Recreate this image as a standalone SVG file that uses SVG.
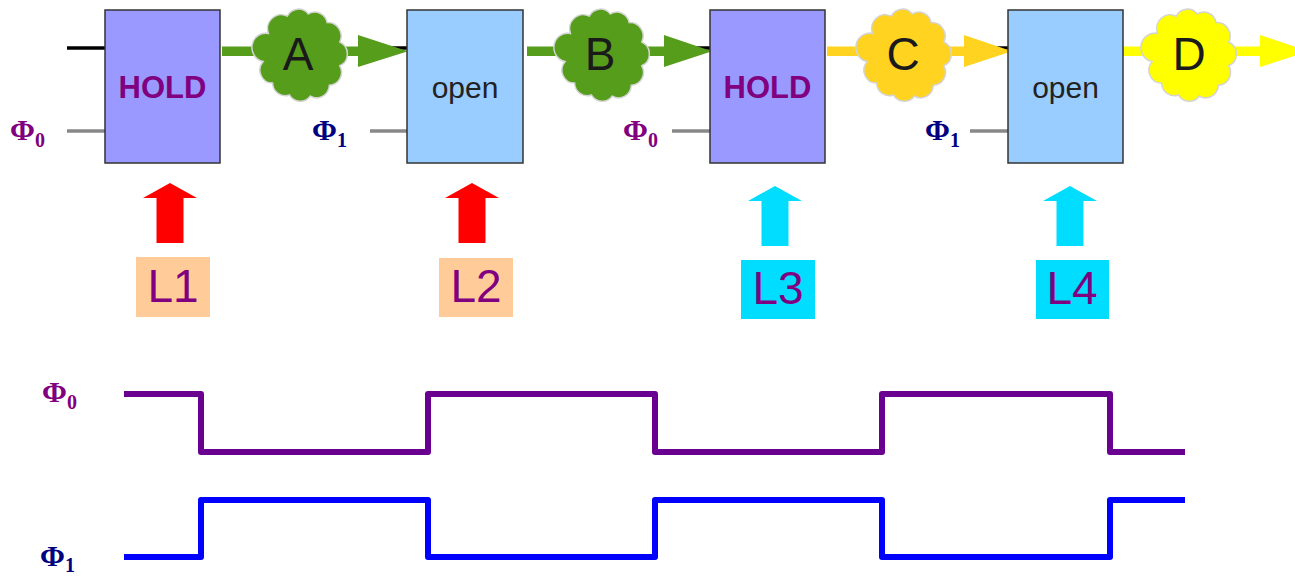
<svg xmlns="http://www.w3.org/2000/svg" width="1295" height="576" viewBox="0 0 1295 576">
<style>
.box{stroke:#333;stroke-width:1.5}
.hold{fill:#9999ff}
.open{fill:#99ccff}
.holdt{font-family:"Liberation Sans",Arial,sans-serif;font-weight:bold;font-size:31px;fill:#800080;text-anchor:middle}
.opent{font-family:"Liberation Sans",Arial,sans-serif;font-size:30px;fill:#222;text-anchor:middle}
.cloudt{font-family:"Liberation Sans",Arial,sans-serif;font-size:46px;fill:#1a1a1a;text-anchor:middle}
.lt{font-family:"Liberation Sans",Arial,sans-serif;font-size:46px;fill:#800080;text-anchor:middle}
.phi{font-family:"Liberation Serif","Times New Roman",serif;font-weight:bold;font-size:30px}
.sub{font-size:20px}
.p0{fill:#800080}
.p1{fill:#000080}
.in{stroke:#000;stroke-width:3.5}
.clk{stroke:#888;stroke-width:3.5}
.cloud{stroke:#d4d4d4;stroke-width:1.4}
.wave{fill:none;stroke-width:6;stroke-linejoin:round}
</style>
<defs>
<path id="cloud" d="M-14,-36 A12,12 0 0 1 6,-38 A12,12 0 0 1 24,-30 A12.5,12.5 0 0 1 36,-12 A12,12 0 0 1 36,10 A12,12 0 0 1 26,28 A12,12 0 0 1 8,38 A12,12 0 0 1 -12,37 A12,12 0 0 1 -28,26 A12,12 0 0 1 -37,6 A12,12 0 0 1 -32,-20 A13,13 0 0 1 -14,-36 Z"/>
<path id="up" d="M-27,15 L0,0 L27,15 L13.5,15 L13.5,60 L-13.5,60 L-13.5,15 Z"/>
</defs>

<g id="inputs">
<line class="in" x1="67" y1="48" x2="105" y2="48"/>
<line class="clk" x1="67" y1="131" x2="105" y2="131"/>
<line class="in" x1="370" y1="48" x2="407" y2="48"/>
<line class="clk" x1="370" y1="131" x2="407" y2="131"/>
<line class="in" x1="672" y1="48" x2="710" y2="48"/>
<line class="clk" x1="672" y1="131" x2="710" y2="131"/>
<line class="in" x1="970" y1="48" x2="1008" y2="48"/>
<line class="clk" x1="970" y1="131" x2="1008" y2="131"/>
</g>

<g id="connectors">
<path fill="#579d1c" d="M222,46.5 H358 V35 L408,51.3 L358,67 V56 H222 Z"/>
<path fill="#579d1c" d="M527,46.5 H664 V35 L712,51.3 L664,67 V56 H527 Z"/>
<path fill="#ffd320" d="M827,46.5 H964 V35 L1012,51.3 L964,67 V56 H827 Z"/>
<path fill="#ffff00" d="M1123,46.5 H1260 V35 L1309,51.3 L1260,67 V56 H1123 Z"/>
</g>

<g id="L1">
<rect class="box hold" x="105" y="10" width="115" height="153"/>
<text class="holdt" x="162.5" y="98">HOLD</text>
</g>
<g id="L2">
<rect class="box open" x="407" y="10" width="116" height="153"/>
<text class="opent" x="465" y="98">open</text>
</g>
<g id="L3">
<rect class="box hold" x="710" y="10" width="115" height="153"/>
<text class="holdt" x="767.5" y="98">HOLD</text>
</g>
<g id="L4">
<rect class="box open" x="1008" y="10" width="115" height="153"/>
<text class="opent" x="1065.5" y="98">open</text>
</g>

<g id="cloudA">
<use href="#cloud" class="cloud" fill="#579d1c" transform="translate(302,55) scale(1.05,1.08)"/>
<text class="cloudt" x="298" y="70">A</text>
</g>
<g id="cloudB">
<use href="#cloud" class="cloud" fill="#579d1c" transform="translate(604,55) scale(1.05,1.08)"/>
<text class="cloudt" x="600" y="70">B</text>
</g>
<g id="cloudC">
<use href="#cloud" class="cloud" fill="#ffd320" transform="translate(906,55) scale(1.05,1.08)"/>
<text class="cloudt" x="903" y="70">C</text>
</g>
<g id="cloudD">
<use href="#cloud" class="cloud" fill="#ffff00" transform="translate(1191,55) scale(1.05,1.08)"/>
<text class="cloudt" x="1189" y="70">D</text>
</g>

<g id="phi-labels">
<text class="phi p0" x="10" y="140">Φ<tspan class="sub" dy="7">0</tspan></text>
<text class="phi p1" x="312" y="140">Φ<tspan class="sub" dy="7">1</tspan></text>
<text class="phi p0" x="623" y="140">Φ<tspan class="sub" dy="7">0</tspan></text>
<text class="phi p1" x="925" y="140">Φ<tspan class="sub" dy="7">1</tspan></text>
</g>

<g id="marker-L1">
<use href="#up" fill="#ff0000" transform="translate(170,183)"/>
<rect x="136" y="257" width="74" height="60" fill="#ffcc99"/>
<text class="lt" x="173" y="302">L1</text>
</g>
<g id="marker-L2">
<use href="#up" fill="#ff0000" transform="translate(472,183)"/>
<rect x="439" y="258" width="74" height="59" fill="#ffcc99"/>
<text class="lt" x="476" y="302">L2</text>
</g>
<g id="marker-L3">
<use href="#up" fill="#00ddff" transform="translate(775,186)"/>
<rect x="741" y="260" width="74" height="59" fill="#00ddff"/>
<text class="lt" x="778" y="304">L3</text>
</g>
<g id="marker-L4">
<use href="#up" fill="#00ddff" transform="translate(1070,186)"/>
<rect x="1036" y="260" width="73" height="59" fill="#00ddff"/>
<text class="lt" x="1072" y="304">L4</text>
</g>

<g id="waveform-phi0">
<text class="phi p0" x="42" y="402">Φ<tspan class="sub" dy="7">0</tspan></text>
<path class="wave" stroke="#6a0090" d="M124,394 H201 V452 H428 V394 H655 V452 H882 V394 H1110 V452 H1185"/>
</g>
<g id="waveform-phi1">
<text class="phi p1" x="40" y="566">Φ<tspan class="sub" dy="6">1</tspan></text>
<path class="wave" stroke="#0000ff" d="M124,557 H201 V500 H428 V557 H655 V500 H882 V557 H1110 V500 H1185"/>
</g>
</svg>
